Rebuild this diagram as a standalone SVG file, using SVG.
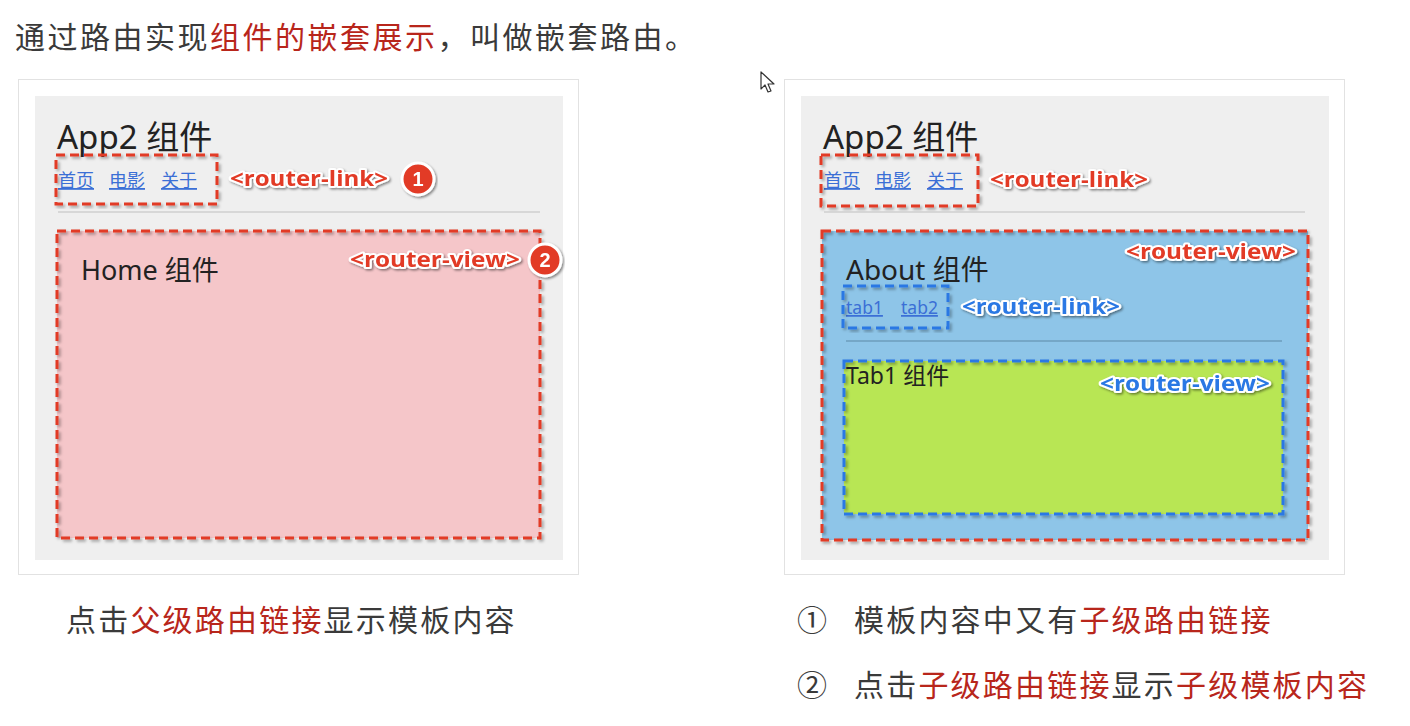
<svg xmlns="http://www.w3.org/2000/svg" width="1410" height="726" viewBox="0 0 1410 726">
<defs>
<filter id="sh" x="-10%" y="-10%" width="120%" height="120%"><feDropShadow dx="2" dy="2" stdDeviation="1.5" flood-color="#000" flood-opacity="0.35"/></filter>
<filter id="lsh" x="-10%" y="-30%" width="120%" height="160%"><feDropShadow dx="1.5" dy="1.5" stdDeviation="1.2" flood-color="#000" flood-opacity="0.45"/></filter>
<style>
.cap{font-family:"Noto Sans CJK SC","Noto Sans",sans-serif;font-size:30px;fill:#3a3a3a;letter-spacing:2.2px}
.red{fill:#b8261b}
.outer{fill:#fff;stroke:#e2e2e2;stroke-width:1}
.gray{fill:#efefef}
.h1{font-family:"Noto Sans","Noto Sans CJK SC",sans-serif;font-size:33px;fill:#222}
.h2{font-family:"Noto Sans","Noto Sans CJK SC",sans-serif;font-size:27px;fill:#222}
.lnk{font-family:"Noto Sans CJK SC","Noto Sans",sans-serif;font-size:18px;fill:#3b6fd6;text-decoration:underline}
.sep{stroke:#cfcfcf;stroke-width:1.5}
.rdash{fill:none;stroke:#e23a26;stroke-width:3;stroke-dasharray:9 5}
.bdash{fill:none;stroke:#2a78e4;stroke-width:3;stroke-dasharray:9 5}
.lbl{font-family:"Open Sans","Noto Sans",sans-serif;font-weight:bold;font-size:21px;stroke:#fff;stroke-width:4;paint-order:stroke;stroke-linejoin:round}
.lr{fill:#e23a26}
.lb{fill:#2a78e4}
.badge{fill:#e23a26;stroke:#fff;stroke-width:3}
.bn{font-family:"Liberation Sans",sans-serif;font-weight:bold;font-size:20px;fill:#fff;text-anchor:middle}
</style>
</defs>
<rect width="1410" height="726" fill="#fff"/>

<g id="title">
<text class="cap" x="15" y="48" style="letter-spacing:2.5px">通过路由实现<tspan class="red">组件的嵌套展示</tspan>，叫做嵌套路由。</text>
</g>

<g id="cursor">
<path d="M761 72 L761 89 L765 85 L768 92 L771 91 L768 84 L774 84 Z" fill="#fff" stroke="#333" stroke-width="1.2" stroke-linejoin="round"/>
</g>

<g id="left-panel">
<rect class="outer" x="18.5" y="79.5" width="560" height="495"/>
<rect class="gray" x="35" y="96" width="528" height="464"/>
<text class="h1" x="57" y="149">App2 组件</text>
<text class="lnk" x="58" y="187">首页</text>
<text class="lnk" x="109" y="187">电影</text>
<text class="lnk" x="161" y="187">关于</text>
<rect class="rdash" x="56" y="155" width="161" height="49" filter="url(#sh)"/>
<text class="lbl lr" x="230" y="186" textLength="158" lengthAdjust="spacingAndGlyphs" filter="url(#lsh)">&lt;router-link&gt;</text>
<g filter="url(#lsh)"><circle class="badge" cx="418" cy="179" r="16"/><text class="bn" x="418" y="186">1</text></g>
<line class="sep" x1="58" y1="212" x2="540" y2="212"/>
<g id="home">
<rect x="57" y="231" width="483" height="307" fill="#f5c6c9"/>
<rect class="rdash" x="57" y="231" width="483" height="307" filter="url(#sh)"/>
<text class="h2" x="81" y="280">Home 组件</text>
<text class="lbl lr" x="350" y="267" textLength="170" lengthAdjust="spacingAndGlyphs" filter="url(#lsh)">&lt;router-view&gt;</text>
<g filter="url(#lsh)"><circle class="badge" cx="545" cy="260" r="16"/><text class="bn" x="545" y="267">2</text></g>
</g>
</g>

<g id="right-panel">
<rect class="outer" x="784.5" y="79.5" width="560" height="495"/>
<rect class="gray" x="801" y="96" width="528" height="464"/>
<text class="h1" x="823" y="149">App2 组件</text>
<text class="lnk" x="824" y="187">首页</text>
<text class="lnk" x="875" y="187">电影</text>
<text class="lnk" x="927" y="187">关于</text>
<rect class="rdash" x="821" y="155" width="157" height="51" filter="url(#sh)"/>
<text class="lbl lr" x="990" y="187" textLength="158" lengthAdjust="spacingAndGlyphs" filter="url(#lsh)">&lt;router-link&gt;</text>
<line class="sep" x1="824" y1="212" x2="1305" y2="212"/>
<g id="about">
<rect x="822" y="231" width="486" height="309" fill="#8ec5e8"/>
<rect class="rdash" x="822" y="231" width="486" height="309" filter="url(#sh)"/>
<text class="lbl lr" x="1126" y="259" textLength="170" lengthAdjust="spacingAndGlyphs" filter="url(#lsh)">&lt;router-view&gt;</text>
<text class="h2" x="846" y="280" style="font-size:28px">About 组件</text>
<text class="lnk" x="846" y="314" style="font-family:'Noto Sans',sans-serif;font-size:17.5px">tab1</text>
<text class="lnk" x="901" y="314" style="font-family:'Noto Sans',sans-serif;font-size:17.5px">tab2</text>
<rect class="bdash" x="843" y="286" width="105" height="42" filter="url(#sh)"/>
<text class="lbl lb" x="962" y="314" textLength="158" lengthAdjust="spacingAndGlyphs" filter="url(#lsh)">&lt;router-link&gt;</text>
<line x1="846" y1="341" x2="1282" y2="341" stroke="#6d9cbd" stroke-width="1.5"/>
<g id="tab1">
<rect x="844" y="361" width="439" height="153" fill="#b8e654"/>
<rect class="bdash" x="844" y="361" width="439" height="153" filter="url(#sh)"/>
<text class="h2" x="846" y="384" style="font-size:23px">Tab1 组件</text>
<text class="lbl lb" x="1100" y="391" textLength="170" lengthAdjust="spacingAndGlyphs" filter="url(#lsh)">&lt;router-view&gt;</text>
</g>
</g>
</g>

<g id="captions">
<text class="cap" x="66" y="631">点击<tspan class="red">父级路由链接</tspan>显示模板内容</text>
<text class="cap" x="797" y="631">①</text>
<text class="cap" x="854" y="631">模板内容中又有<tspan class="red">子级路由链接</tspan></text>
<text class="cap" x="797" y="696">②</text>
<text class="cap" x="854" y="696">点击<tspan class="red">子级路由链接</tspan>显示<tspan class="red">子级模板内容</tspan></text>
</g>
</svg>
